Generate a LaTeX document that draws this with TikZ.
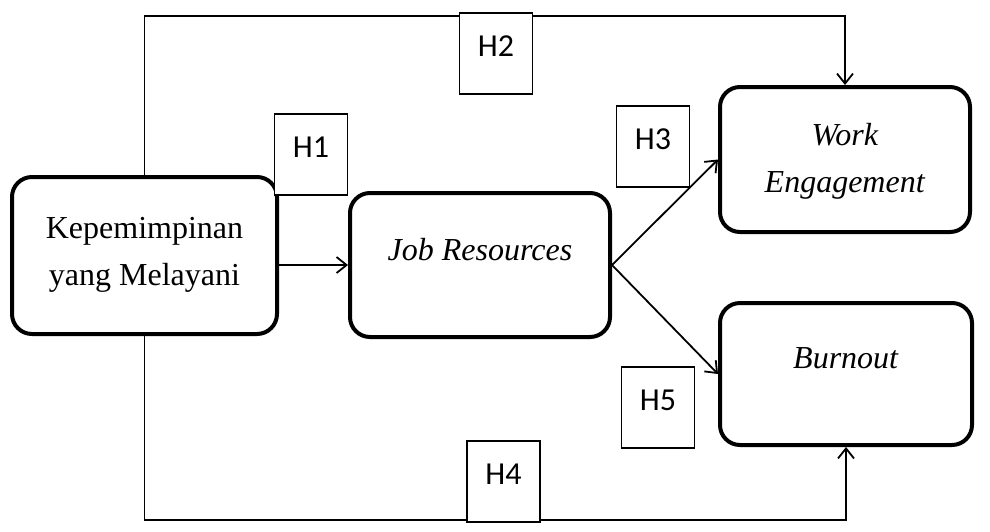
\documentclass[tikz,border=0pt]{standalone}
\usepackage{fontspec}
\setmainfont{Liberation Serif}
\newfontfamily\hipfont{Carlito}
\usetikzlibrary{arrows.meta}

\tikzset{
  konstruk/.style={draw=black, line width=2pt, rounded corners=10pt, align=center, font=\fontsize{16}{23.5}\selectfont},
  hipotesis/.style={draw=black, line width=0.8pt, fill=white, minimum width=36.5pt, minimum height=40.5pt, text depth=7pt, font=\hipfont\fontsize{16}{18}\selectfont},
  jalur/.style={line width=0.9pt, -{Straight Barb[length=5pt,width=8pt]}}
}

\begin{document}
\begin{tikzpicture}[scale=1.000000,x=0.5pt,y=-0.5pt]
\useasboundingbox[fill=white] (0,0) rectangle (990,531);
% Drawing constructs
\node[konstruk, minimum width=132.5pt, minimum height=78.5pt, text depth=4pt] (kep) at (144.5,255.5) {Kepemimpinan\\yang Melayani};
\node[konstruk, minimum width=130pt, minimum height=72pt, text depth=16pt] (job) at (480,265) {\textit{Job Resources}};
\node[konstruk, minimum width=125pt, minimum height=72.5pt, text depth=2pt] (we) at (845,159.5) {\textit{Work}\\\textit{Engagement}};
\node[konstruk, minimum width=126pt, minimum height=71pt, text depth=16pt] (bo) at (846,374) {\textit{Burnout}};
% Drawing paths
\coordinate (jalurAtas) at (0,16);
\coordinate (jalurBawah) at (0,520);
\draw[jalur] (job.west -| kep.east) -- (job.west);
\draw[jalur] (kep.north) -- (kep.north |- jalurAtas) -| (we.north);
\draw[jalur] (job.east) -- (we.west);
\draw[jalur] (kep.south) -- (kep.south |- jalurBawah) -| (bo.south);
\draw[jalur] (job.east) -- (bo.west);
% Drawing hypothesis labels
\node[hipotesis] (h1) at (311,154.5) {H1};
\node[hipotesis] (h2) at (496,53.5) {H2};
\node[hipotesis] (h3) at (653,146.5) {H3};
\node[hipotesis] (h4) at (503.5,481.5) {H4};
\node[hipotesis] (h5) at (658,407.5) {H5};
\end{tikzpicture}
\end{document}
